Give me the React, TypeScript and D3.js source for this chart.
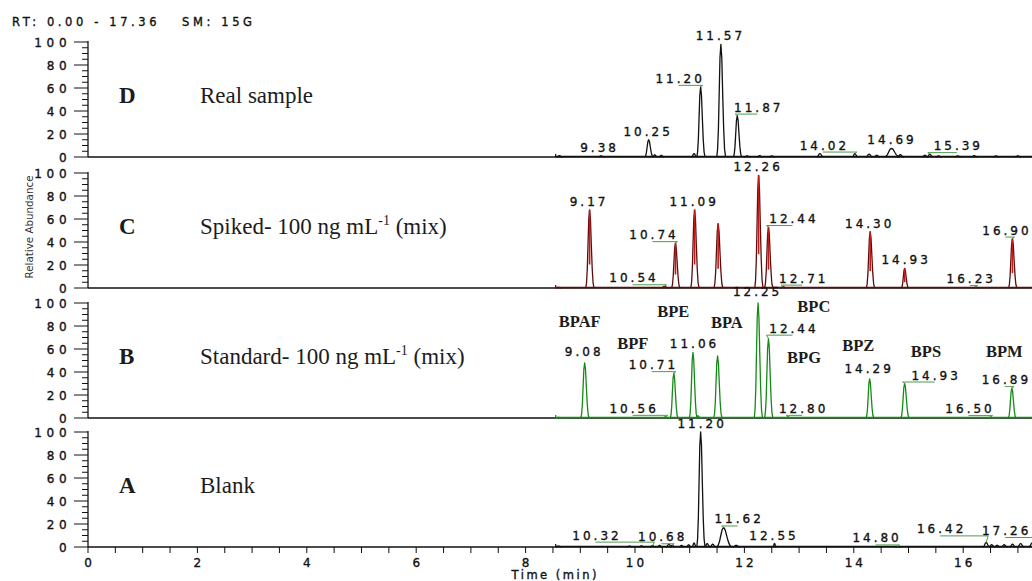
import React from "react";
import * as d3 from "d3";

const WIDTH = 1032;
const HEIGHT = 581;

const runHeader = "RT: 0.00 - 17.36   SM: 15G";
const rtMax = 17.36;
const traceStart = 8.55;
const traceEnd = 17.8;

const panelLetters = ["D", "C", "B", "A"];
// title text, superscript, rest
const panelTitles: [string, string, string][] = [
  ["Real sample", "", ""],
  ["Spiked- 100 ng mL", "-1", " (mix)"],
  ["Standard- 100 ng mL", "-1", " (mix)"],
  ["Blank", "", ""],
];
const traceColors = ["#111111", "#5e0b0b", "#168a16", "#111111"];

// [retention time (min), relative abundance (%), half base width (min)]
const peaksD = [
  [8.62, 1.2, 0.05], [9.38, 1.0, 0.05], [10.25, 15, 0.07], [10.36, 2, 0.04],
  [10.48, 1.5, 0.04], [11.08, 3, 0.05], [11.2, 61, 0.07], [11.57, 98, 0.075],
  [11.87, 36, 0.07], [12.05, 1, 0.05], [12.28, 1.2, 0.05], [12.5, 1, 0.05],
  [13.38, 3, 0.06], [14.02, 3, 0.05], [14.28, 2.5, 0.06], [14.42, 1.5, 0.05],
  [14.69, 7.5, 0.13], [14.85, 2, 0.06], [15.3, 1.5, 0.05], [15.39, 2.5, 0.05],
  [15.55, 1, 0.05], [15.9, 1, 0.05], [16.2, 1.2, 0.05], [16.6, 1, 0.05],
  [17.0, 1, 0.05], [17.3, 1.2, 0.05],
];
const peaksC = [
  [8.6, 0.6, 0.05], [9.17, 68, 0.07], [10.54, 1.5, 0.06], [10.74, 39, 0.07],
  [11.09, 68, 0.07], [11.52, 56, 0.075], [12.26, 98, 0.07], [12.44, 53, 0.07],
  [12.71, 1.2, 0.05], [14.3, 49, 0.07], [14.93, 17, 0.06], [16.23, 0.8, 0.05],
  [16.9, 43, 0.07],
];
const peaksB = [
  [8.6, 0.5, 0.05], [9.08, 48, 0.07], [10.56, 1, 0.06], [10.71, 39, 0.065],
  [11.06, 57, 0.065], [11.15, 2, 0.04], [11.51, 54, 0.07], [12.25, 100, 0.07],
  [12.44, 69, 0.07], [12.8, 1, 0.05], [14.29, 34, 0.065], [14.93, 30, 0.07],
  [16.5, 0.8, 0.05], [16.89, 26, 0.065],
];
const peaksA = [
  [8.6, 0.8, 0.05], [9.9, 0.8, 0.05], [10.12, 1, 0.05], [10.32, 1.2, 0.05],
  [10.45, 1.5, 0.04], [10.62, 2.5, 0.05], [10.68, 1.5, 0.04], [10.85, 1.5, 0.04],
  [10.98, 2, 0.04], [11.08, 3.5, 0.04], [11.2, 100, 0.07], [11.32, 3, 0.05],
  [11.42, 2.5, 0.05], [11.62, 17, 0.13], [11.85, 1.5, 0.06], [12.55, 3, 0.03],
  [14.8, 0.5, 0.05], [16.42, 4, 0.06], [16.52, 2, 0.05], [16.62, 1.5, 0.05],
  [16.75, 2, 0.05], [16.9, 2.5, 0.05], [17.05, 3, 0.06], [17.26, 3.5, 0.06],
  [17.4, 3, 0.06],
];
const panelPeaks = [peaksD, peaksC, peaksB, peaksA];

// retention time labels printed over peaks
const labelsD = ["9.38", "10.25", "11.20", "11.57", "11.87", "14.02", "14.69", "15.39"];
const labelsC = ["9.17", "10.54", "10.74", "11.09", "12.26", "12.44", "12.71", "14.30", "14.93", "16.23", "16.90"];
const labelsB = ["9.08", "10.56", "10.71", "11.06", "12.25", "12.44", "12.80", "14.29", "14.93", "16.50", "16.89"];
const labelsA = ["10.32", "10.68", "11.20", "11.62", "12.55", "14.80", "16.42", "17.26"];
const panelLabels = [labelsD, labelsC, labelsB, labelsA];

// label nudges in px [dx, dy]
const shiftD = [[-3, 0], [-2, 0], [-22, 0], [-2, 0], [20, 0], [-32, 0], [-1, 0], [27, 0]];
const shiftC = [[-2, 0], [-32, 0], [-23, 0], [-2, 0], [-2, 0], [24, 0], [19, 0], [-2, 0], [0, 0], [-6, 0], [-7, 0]];
const shiftB = [[-2, -3], [-33, 0], [-22, 0], [0, 0], [-2, -3], [24, -2], [14, 0], [-2, -2], [30, 0], [-22, 0], [-7, 0]];
const shiftA = [[-57, -2], [-11, 0], [0, 0], [14, 0], [-2, 0], [-22, 0], [-46, -5], [-27, -4]];
const panelShifts = [shiftD, shiftC, shiftB, shiftA];

// compound names in the standard (panel B), anchored in [min, %]
const compoundNames = ["BPAF", "BPF", "BPE", "BPA", "BPC", "BPG", "BPZ", "BPS", "BPM"];
const compoundAnchors = [
  [8.99, 79], [9.96, 60], [10.7, 88], [11.68, 78], [13.27, 92],
  [13.09, 48], [14.08, 58], [15.32, 53], [16.75, 53],
];

const panelTop = [42, 173, 303, 432];
const panelH = 115;

const x = d3.scaleLinear().domain([0, rtMax]).range([88, 88 + rtMax * 54.7]);

// outline of one peak, in (base half-widths, fraction of height)
const peakShape = [
  [-1, 0], [-0.8, 0.07], [-0.6, 0.25], [-0.42, 0.55], [-0.22, 0.88], [0, 1],
  [0.22, 0.88], [0.45, 0.55], [0.68, 0.25], [0.9, 0.07], [1.15, 0],
];

const labelFont = "'DejaVu Sans', Verdana, sans-serif";
const serif = "'Liberation Serif', 'Times New Roman', serif";
const ink = "#111111";
// the instrument font prints a little heavier than DejaVu
const heavy = { stroke: ink, strokeWidth: 0.35 };

const Panel = ({ i }: { i: number }) => {
  const top = panelTop[i];
  const y = d3.scaleLinear().domain([0, 100]).range([top + panelH, top]);
  const color = traceColors[i];
  const peaks = panelPeaks[i];
  const y0 = y(0);

  const line = d3
    .line<number[]>()
    .x((d) => d[0])
    .y((d) => d[1]);

  const yTicks = d3.range(0, 101, 5);
  const [tMain, tSup, tRest] = panelTitles[i];

  return (
    <g>
      {/* y axis */}
      <line x1={88} x2={88} y1={y(100) - 1} y2={y0} stroke={ink} strokeWidth={1.3} />
      {yTicks.map((v) => {
        const major = v % 20 === 0;
        return (
          <g key={v}>
            <line x1={major ? 74 : 82} x2={88} y1={y(v)} y2={y(v)} stroke={ink} strokeWidth={1} />
            {major && (
              <text
                x={67}
                dx={4.5}
                y={y(v) + 4.5}
                textAnchor="end"
                fontFamily={labelFont}
                fontSize={12}
                letterSpacing={4.8}
                fill={ink}
                {...heavy}
              >
                {v}
              </text>
            )}
          </g>
        );
      })}

      {/* bottom axis line */}
      <line x1={88} x2={WIDTH} y1={y0} y2={y0} stroke={ink} strokeWidth={1.6} />

      {/* panel captions */}
      <text x={119} y={top + 61} fontFamily={serif} fontWeight="bold" fontSize={23} fill="#1c1c1c">
        {panelLetters[i]}
      </text>
      <text x={200} y={top + 61} fontFamily={serif} fontSize={23} fill="#1c1c1c">
        {tMain}
        {tSup && (
          <tspan fontSize={14} dy={-9}>
            {tSup}
          </tspan>
        )}
        {tSup && <tspan dy={9}>{tRest}</tspan>}
      </text>

      {/* trace baseline */}
      <line
        x1={x(traceStart)}
        x2={Math.min(x(traceEnd), WIDTH)}
        y1={y0 - 0.5}
        y2={y0 - 0.5}
        stroke={color}
        strokeWidth={1.4}
      />
      <line x1={x(traceStart)} x2={x(traceStart)} y1={y0} y2={y0 - 3} stroke={color} strokeWidth={1.2} />

      {/* peaks */}
      {peaks.map(([t, h, w], k) => {
        const pts = peakShape.map(([u, f]) => [x(t + u * w), y(h * f)]);
        return (
          <g key={k}>
            <path d={line(pts) || ""} fill="none" stroke={color} strokeWidth={1.3} strokeLinejoin="round" />
            {i === 1 && h > 10 && (
              <line x1={x(t)} x2={x(t)} y1={y(h * 0.3)} y2={y(h)} stroke="#c21818" strokeWidth={1.6} />
            )}
          </g>
        );
      })}

      {/* retention time labels with leader lines */}
      {panelLabels[i].map((lab, k) => {
        const t = +lab;
        const pk = peaks.reduce((a, b) => (Math.abs(b[0] - t) < Math.abs(a[0] - t) ? b : a));
        const ax = x(pk[0]);
        const ay = y(pk[1]);
        const [dx, dy] = panelShifts[i][k];
        const lx = ax + dx;
        const ly = ay - 4 + dy;
        return (
          <g key={lab + k}>
            {Math.abs(dx) > 4 && (
              <polyline
                points={`${lx},${ly + 2.5} ${ax - Math.sign(dx) * 2},${ly + 2.5} ${ax},${ay}`}
                fill="none"
                stroke="#4f9a4f"
                strokeWidth={1}
              />
            )}
            <text
              x={lx}
              dx={1.5}
              y={ly}
              textAnchor="middle"
              fontFamily={labelFont}
              fontSize={12}
              letterSpacing={3}
              fill={ink}
              {...heavy}
            >
              {lab}
            </text>
          </g>
        );
      })}

      {/* compound names (standard only) */}
      {i === 2 &&
        compoundNames.map((nm, k) => (
          <text
            key={nm}
            x={x(compoundAnchors[k][0])}
            y={y(compoundAnchors[k][1])}
            textAnchor="middle"
            fontFamily={serif}
            fontWeight="bold"
            fontSize={16.5}
            fill="#1c1c1c"
          >
            {nm}
          </text>
        ))}
    </g>
  );
};

export default function App() {
  const bottom = panelTop[3] + panelH;
  const xTicks = d3.range(0, rtMax + 0.01, 0.5);
  const xLabels = d3.range(0, 17, 2);

  return (
    <svg
      width={WIDTH}
      height={HEIGHT}
      style={{ display: "block", position: "absolute", left: 0, top: 0, background: "#fff" }}
    >
      <rect width={WIDTH} height={HEIGHT} fill="#fff" />
      <text
        x={12}
        y={26}
        fontFamily={labelFont}
        fontSize={11.5}
        textLength={240}
        lengthAdjust="spacing"
        fill={ink}
        style={{ whiteSpace: "pre" }}
        {...heavy}
      >
        {runHeader}
      </text>

      <text
        transform="translate(33,227) rotate(-90)"
        textAnchor="middle"
        fontFamily={labelFont}
        fontSize={11}
        textLength={103}
        lengthAdjust="spacingAndGlyphs"
        fill="#333"
      >
        Relative Abundance
      </text>

      {panelLetters.map((_, i) => (
        <Panel key={i} i={i} />
      ))}

      {/* time axis */}
      {xTicks.map((t) => (
        <line key={t} x1={x(t)} x2={x(t)} y1={bottom} y2={bottom + 6} stroke={ink} strokeWidth={1} />
      ))}
      {xLabels.map((t) => (
        <text
          key={t}
          x={x(t)}
          dx={1.5}
          y={567}
          textAnchor="middle"
          fontFamily={labelFont}
          fontSize={12}
          letterSpacing={3}
          fill={ink}
          {...heavy}
        >
          {t}
        </text>
      ))}
      <text
        x={554}
        dx={1.25}
        y={579}
        textAnchor="middle"
        fontFamily={labelFont}
        fontSize={11.5}
        letterSpacing={2.5}
        fill={ink}
        {...heavy}
      >
        Time (min)
      </text>
    </svg>
  );
}
